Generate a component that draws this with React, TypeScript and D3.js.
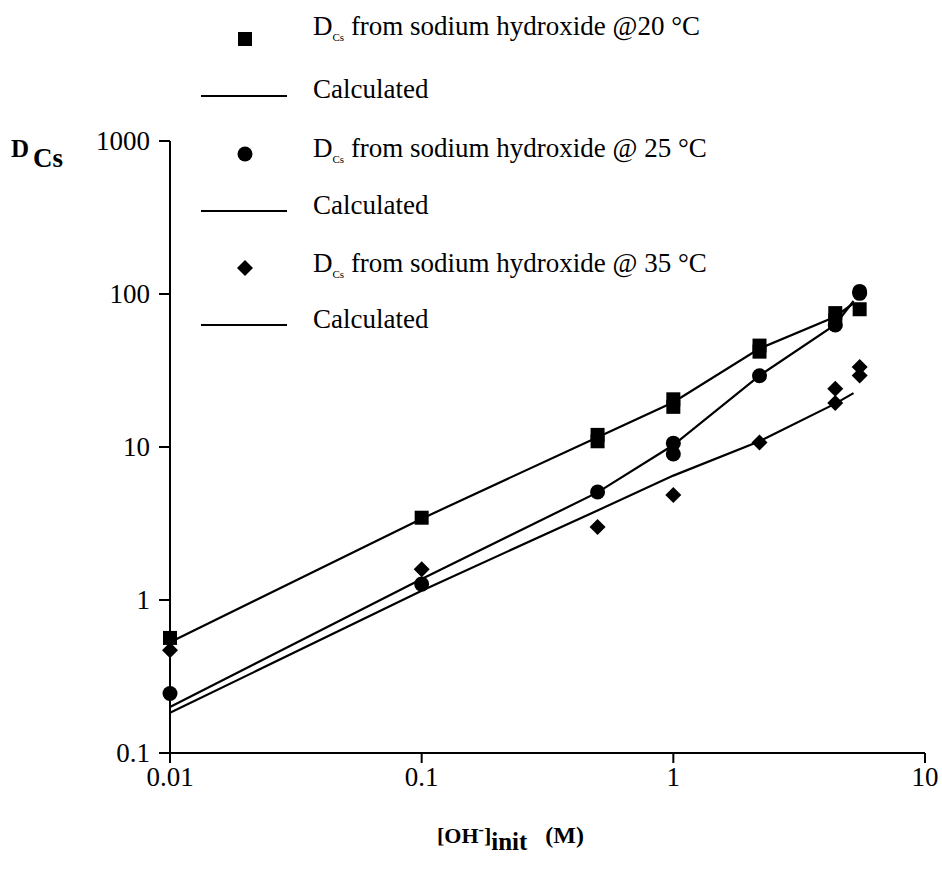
import React from "react";
import * as d3 from "d3";

// ---- data ----
const sq20X = [0.01, 0.1, 0.5, 0.5, 1, 1, 2.2, 2.2, 4.4, 4.4, 5.5];
const sq20Y = [0.565, 3.45, 12.0, 10.9, 20.5, 18.3, 46, 42, 75, 67, 79.5];

const ci25X = [0.01, 0.1, 0.5, 1, 1, 2.2, 4.4, 5.5, 5.5];
const ci25Y = [0.245, 1.27, 5.08, 10.6, 9.0, 29.2, 62.7, 101, 104];

const di35X = [0.01, 0.1, 0.5, 1, 2.2, 4.4, 4.4, 5.5, 5.5];
const di35Y = [0.47, 1.59, 3.0, 4.85, 10.7, 24, 19.4, 33.3, 29.3];

const calcX = [0.01, 0.1, 0.5, 1, 2.2, 4.4, 5.2];
const calc20 = [0.53, 3.4, 11.6, 19.6, 44, 71, 87];
const calc25 = [0.2, 1.37, 5.05, 10.3, 29.3, 63, 90];
const calc35 = [0.183, 1.15, 3.85, 6.5, 10.9, 19.2, 22.5];

const xTicks = [0.01, 0.1, 1, 10];
const xTickLabels = ["0.01", "0.1", "1", "10"];
const yTicks = [0.1, 1, 10, 100, 1000];
const yTickLabels = ["0.1", "1", "10", "100", "1000"];

const legendTemps = ["@20 °C", "@ 25 °C", "@ 35 °C"];

const FONT = "'Liberation Serif', Tinos, 'Times New Roman', 'DejaVu Serif', serif";

export default function App() {
  const x = d3.scaleLog().domain([0.01, 10]).range([170, 925]);
  const y = d3.scaleLog().domain([0.1, 1000]).range([753, 141]);

  const line = d3
    .line<[number, number]>()
    .x((d) => x(d[0]))
    .y((d) => y(d[1]));

  const sym = (type: string, cx: number, cy: number, key: string | number) => {
    if (type === "square")
      return <rect key={key} x={cx - 7} y={cy - 7} width={14} height={14} fill="#000" />;
    if (type === "circle") return <circle key={key} cx={cx} cy={cy} r={7.5} fill="#000" />;
    return (
      <path
        key={key}
        d={`M${cx},${cy - 8}L${cx + 8},${cy}L${cx},${cy + 8}L${cx - 8},${cy}Z`}
        fill="#000"
      />
    );
  };

  const calcs = [calc20, calc25, calc35];
  const series = [
    { type: "square", xs: sq20X, ys: sq20Y },
    { type: "circle", xs: ci25X, ys: ci25Y },
    { type: "diamond", xs: di35X, ys: di35Y },
  ];

  const legendTypes = ["square", "circle", "diamond"];
  const legendSymY = [39, 154, 268];
  const legendTextY = [35, 157, 272];
  const legendLineY = [96, 211, 325];
  const legendCalcY = [98, 214, 328];

  const txt = { fontFamily: FONT } as React.CSSProperties;

  return (
    <svg
      width={942}
      height={873}
      style={{ position: "absolute", left: 0, top: 0, background: "#fff", fontFamily: FONT }}
    >
      <rect width={942} height={873} fill="#fff" />
      {/* axes */}
      <g stroke="#000" strokeWidth={2} fill="none">
        <line x1={x(0.01)} x2={x(10)} y1={y(0.1)} y2={y(0.1)} />
        <line x1={x(0.01)} x2={x(0.01)} y1={y(1000)} y2={y(0.1) + 10} />
        {yTicks.map((t, i) => (
          <line key={"yt" + i} x1={x(0.01) - 11} x2={x(0.01)} y1={y(t)} y2={y(t)} />
        ))}
        {xTicks.map((t, i) => (
          <line key={"xt" + i} x1={x(t)} x2={x(t)} y1={y(0.1)} y2={y(0.1) + 10} />
        ))}
      </g>
      {/* tick labels */}
      <g fill="#000" style={{ ...txt, fontSize: 27 }}>
        {yTicks.map((t, i) => (
          <text key={"yl" + i} x={x(0.01) - 20} y={y(t) + 9} textAnchor="end">
            {yTickLabels[i]}
          </text>
        ))}
        {xTicks.map((t, i) => (
          <text key={"xl" + i} x={x(t)} y={y(0.1) + 33} textAnchor="middle">
            {xTickLabels[i]}
          </text>
        ))}
      </g>
      {/* calculated lines */}
      {calcs.map((c, i) => (
        <path
          key={"c" + i}
          d={line(calcX.map((v, j) => [v, c[j]] as [number, number])) || ""}
          fill="none"
          stroke="#000"
          strokeWidth={2.2}
        />
      ))}
      {/* points */}
      {series.map((s, i) => (
        <g key={"s" + i}>{s.xs.map((v, j) => sym(s.type, x(v), y(s.ys[j]), j))}</g>
      ))}
      {/* legend */}
      {legendTypes.map((t, i) => (
        <g key={"lg" + i}>
          {sym(t, 245, legendSymY[i], "ls" + i)}
          <text x={313} y={legendTextY[i]} fill="#000" style={{ ...txt, fontSize: 27 }}>
            D
            <tspan style={{ fontSize: 11 }} dy={6}>
              Cs
            </tspan>
            <tspan dy={-6}>{" from sodium hydroxide " + legendTemps[i]}</tspan>
          </text>
          <line x1={201} x2={287} y1={legendLineY[i]} y2={legendLineY[i]} stroke="#000" strokeWidth={2} />
          <text x={313} y={legendCalcY[i]} fill="#000" style={{ ...txt, fontSize: 27 }}>
            Calculated
          </text>
        </g>
      ))}
      {/* y label */}
      <text x={11} y={157} fill="#000" style={{ ...txt, fontSize: 25, fontWeight: "bold" }}>
        D
        <tspan style={{ fontSize: 27 }} dx={4} dy={10}>
          Cs
        </tspan>
      </text>
      {/* x label */}
      <text x={437} y={843} fill="#000" style={{ ...txt, fontSize: 22, fontWeight: "bold" }}>
        [OH
        <tspan style={{ fontSize: 16 }} dy={-8}>-</tspan>
        <tspan dy={8}>]</tspan>
        <tspan style={{ fontSize: 25 }} dy={7}>init</tspan>
        <tspan style={{ fontSize: 24 }} dy={-7} dx={18}>(M)</tspan>
      </text>
    </svg>
  );
}
